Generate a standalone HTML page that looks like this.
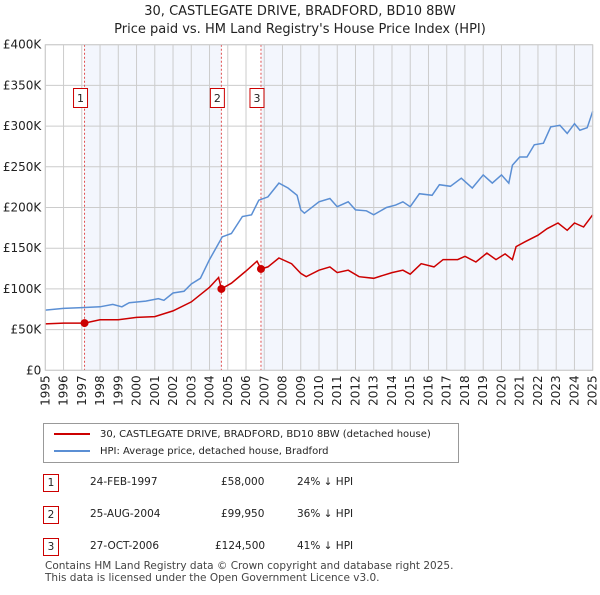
<!DOCTYPE html>
<html><head><meta charset="utf-8"><style>
body{margin:0;background:#fff;font-family:"Liberation Sans","DejaVu Sans",sans-serif;}
svg text{font-family:"DejaVu Sans","Liberation Sans",sans-serif;}
</style></head><body>
<svg id="chart" width="600" height="590" xmlns="http://www.w3.org/2000/svg"></svg>
<script>
const hpiYears=[1995,1996,1997,1998,1998.7,1999.2,1999.6,2000.5,2001.2,2001.5,2002,2002.6,2003,2003.5,2004,2004.4,2004.7,2005.2,2005.8,2006.3,2006.7,2007.2,2007.8,2008.3,2008.8,2009,2009.2,2010,2010.6,2011,2011.6,2012,2012.6,2013,2013.7,2014.2,2014.6,2015,2015.5,2016.2,2016.6,2017.2,2017.8,2018.4,2019,2019.5,2020,2020.4,2020.6,2021,2021.4,2021.8,2022.3,2022.7,2023.2,2023.6,2024,2024.3,2024.7,2025];
const hpiValues=[74,76,77,78,81,78,83,85,88,86,95,97,106,113,136,152,164,168,189,191,209,213,230,224,215,197,193,207,211,201,207,197,196,191,200,203,207,201,217,215,228,226,236,224,240,230,240,230,252,262,262,277,279,299,301,291,303,295,298,318];
const ppYears=[1995,1996,1997.15,1998,1999,2000,2001,2002,2003,2004,2004.5,2004.65,2005.2,2006,2006.6,2006.82,2007.2,2007.8,2008.5,2009,2009.3,2010,2010.6,2011,2011.6,2012.2,2013,2014,2014.6,2015,2015.6,2016.3,2016.8,2017.6,2018,2018.6,2019.2,2019.7,2020.2,2020.6,2020.8,2021.3,2022,2022.5,2023.1,2023.6,2024,2024.5,2025];
const ppValues=[57,58,58,62,62,65,66,73,84,102,114,100,107,122,134,124.5,127,138,131,119,115,123,127,120,123,115,113,120,123,118,131,127,136,136,140,133,144,136,143,136,152,158,166,174,181,172,181,176,191];
const saleYears=[1997.15,2004.65,2006.82];
const saleValues=[58,99.95,124.5];
const saleLabels=["1","2","3"];
const yTicks=[0,50,100,150,200,250,300,350,400];
const yTickLabels=["£0","£50K","£100K","£150K","£200K","£250K","£300K","£350K","£400K"];
const xTicks=[];for(let y=1995;y<=2025;y++)xTicks.push(y);

const NS="http://www.w3.org/2000/svg";
const svg=document.getElementById('chart');
const L=45.3,R=592.7,T=44.7,B=370.3;
const x=v=>L+(v-1995)/30*(R-L);
const y=v=>B-v/400*(B-T);
function el(t,a,p){const e=document.createElementNS(NS,t);for(const k in a)e.setAttribute(k,a[k]);(p||svg).appendChild(e);return e;}

let e=el('rect',{x:L,y:T,width:R-L,height:B-T,fill:'#fff'});

e=el('rect',{x:x(saleYears[0]),y:T,width:x(saleYears[1])-x(saleYears[0]),height:B-T,fill:'#f3f6fd'});

e=el('rect',{x:x(saleYears[2]),y:T,width:R-x(saleYears[2]),height:B-T,fill:'#f3f6fd'});

xTicks.forEach(v=>{const g=el('line',{x1:x(v),x2:x(v),y1:T,y2:B,stroke:'#cccccc','stroke-width':1});

const t=el('text',{x:0,y:0,'font-size':12,fill:'#222','text-anchor':'end',transform:`translate(${x(v)+4},${B+5}) rotate(-90)`});t.textContent=v;
});
yTicks.forEach((v,i)=>{const g=el('line',{x1:L,x2:R,y1:y(v),y2:y(v),stroke:'#cccccc','stroke-width':1});

const t=el('text',{x:L-4,y:y(v)+4,'font-size':12,fill:'#222','text-anchor':'end'});t.textContent=yTickLabels[i];
});
saleYears.forEach((v,i)=>{const l=el('line',{x1:x(v),x2:x(v),y1:T,y2:B,stroke:'#e05050','stroke-width':1,'stroke-dasharray':'2,2'});

const bx=x(v)-11;
const r=el('rect',{x:bx,y:88.5,width:14,height:19,fill:'#fff',stroke:'#cc0000','stroke-width':1});

const t=el('text',{x:bx+7,y:102,'font-size':11,'text-anchor':'middle',fill:'#222'});t.textContent=saleLabels[i];
});
const path=(xs,vs)=>xs.map((v,i)=>(i?'L':'M')+x(v).toFixed(1)+','+y(vs[i]).toFixed(1)).join('');
e=el('path',{d:path(hpiYears,hpiValues),fill:'none',stroke:'#5b8fd4','stroke-width':1.5});

e=el('path',{d:path(ppYears,ppValues),fill:'none',stroke:'#cc0000','stroke-width':1.5});

saleYears.forEach((v,i)=>{const c=el('circle',{cx:x(v),cy:y(saleValues[i]),r:4,fill:'#cc0000'});
});
e=el('rect',{x:L,y:T,width:R-L,height:B-T,fill:'none',stroke:'#cccccc'});

</script>
<div style="position:absolute;left:0;top:3px;width:600px;text-align:center;font-size:13px;line-height:18px;color:#222;font-family:'DejaVu Sans',sans-serif">30, CASTLEGATE DRIVE, BRADFORD, BD10 8BW<br>Price paid vs. HM Land Registry's House Price Index (HPI)</div>
<div style="position:absolute;left:43px;top:423px;width:414px;height:38px;border:1px solid #999;font-size:10px;font-family:'DejaVu Sans',sans-serif;color:#222;white-space:nowrap">
<div style="position:absolute;left:10px;top:5px"><span style="display:inline-block;width:36px;border-top:2px solid #cc0000;vertical-align:middle;margin-right:10px"></span>30, CASTLEGATE DRIVE, BRADFORD, BD10 8BW (detached house)</div>
<div style="position:absolute;left:10px;top:22px"><span style="display:inline-block;width:36px;border-top:2px solid #5b8fd4;vertical-align:middle;margin-right:10px"></span>HPI: Average price, detached house, Bradford</div>
</div>
<div style="font-family:'DejaVu Sans',sans-serif;font-size:10.5px;color:#222;white-space:nowrap">
<div style="position:absolute;top:474px;left:43px;width:14px;height:16px;border:1px solid #cc0000;text-align:center;line-height:16px">1</div>
<div style="position:absolute;top:476px;left:90px">24-FEB-1997</div>
<div style="position:absolute;top:476px;left:221px">£58,000</div>
<div style="position:absolute;top:476px;left:297px">24% ↓ HPI</div>
<div style="position:absolute;top:506px;left:43px;width:14px;height:16px;border:1px solid #cc0000;text-align:center;line-height:16px">2</div>
<div style="position:absolute;top:508px;left:90px">25-AUG-2004</div>
<div style="position:absolute;top:508px;left:221px">£99,950</div>
<div style="position:absolute;top:508px;left:297px">36% ↓ HPI</div>
<div style="position:absolute;top:538px;left:43px;width:14px;height:16px;border:1px solid #cc0000;text-align:center;line-height:16px">3</div>
<div style="position:absolute;top:540px;left:90px">27-OCT-2006</div>
<div style="position:absolute;top:540px;left:215px">£124,500</div>
<div style="position:absolute;top:540px;left:297px">41% ↓ HPI</div>
</div>
<div style="position:absolute;left:45px;top:560px;font-size:10.5px;line-height:12px;color:#444;font-family:'DejaVu Sans',sans-serif">Contains HM Land Registry data © Crown copyright and database right 2025.<br>This data is licensed under the Open Government Licence v3.0.</div>
</body></html>
